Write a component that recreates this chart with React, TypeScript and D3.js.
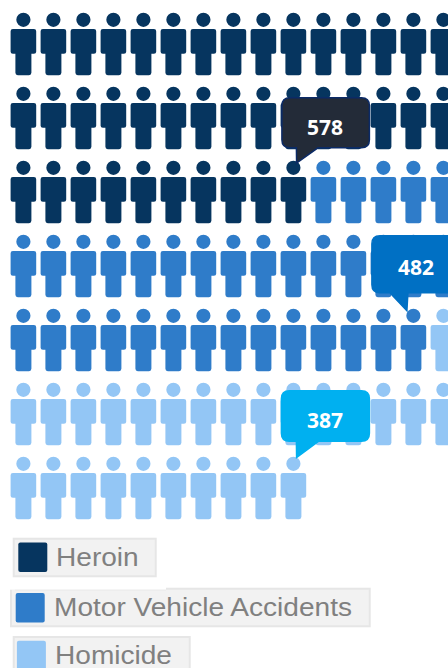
import React from 'react';
import * as d3 from 'd3';

const categories = ['Heroin', 'Motor Vehicle Accidents', 'Homicide'];
const deaths = [578, 482, 387];
// people drawn for each category, out of 100
const iconCounts = [40, 34, 26];
const colors = ['#06355f', '#2f7cc9', '#93c6f5'];

const calloutFill = ['#232b38', '#0070c4', '#00b0f0'];
const calloutStroke = ['#0b2a66', '#0070c4', '#00b0f0'];
// box relative to the head of the last person in the category
const calloutBox = [
  { dx: -11.5, dy: -70, w: 87.5, h: 50, tipDx: 3.2, tipDy: -4.7, baseA: 14.5, baseB: 36, labelDx: 31.5, labelDy: -33 },
  { dx: -41.5, dy: -80, w: 90, h: 57, tipDx: -6.5, tipDy: -5, baseA: 18, baseB: 36, labelDx: 2.5, labelDy: -41 },
  { dx: -12, dy: -73, w: 88, h: 50.5, tipDx: 3.2, tipDy: -6.3, baseA: 15, baseB: 37, labelDx: 31.5, labelDy: -36.3 },
];

const legendBoxes = [
  { x: 12.7, y: 537.7, w: 144, h: 39.6, sx: 18.3, sy: 542.6, tx: 56, by: 565.7 },
  { x: 10, y: 587.7, w: 360.7, h: 39.6, sx: 15.7, sy: 593, tx: 54, by: 615.7 },
  { x: 12.7, y: 636, w: 178, h: 39.6, sx: 16.9, sy: 640.8, tx: 55, by: 664 },
];

const columns = d3.range(15);
const rows = d3.range(7);

const x = d3.scaleLinear().domain([0, 14]).range([23.4, 443.4]);
const y = d3.scaleLinear().domain([0, 6]).range([19.8, 463.8]);

// person icon, origin at the centre of the head
function personPath() {
  const p = d3.path();
  p.arc(0, 0, 7.1, 0, Math.PI * 2);
  p.closePath();
  p.moveTo(-10.5, 9.2);
  p.lineTo(10.5, 9.2);
  p.quadraticCurveTo(12.8, 9.2, 12.8, 11.5);
  p.lineTo(12.8, 32);
  p.quadraticCurveTo(12.8, 34, 10.5, 34);
  p.lineTo(8, 34);
  p.lineTo(8, 53);
  p.quadraticCurveTo(8, 55.4, 5.6, 55.4);
  p.lineTo(-5.6, 55.4);
  p.quadraticCurveTo(-8, 55.4, -8, 53);
  p.lineTo(-8, 34);
  p.lineTo(-10.5, 34);
  p.quadraticCurveTo(-12.8, 34, -12.8, 32);
  p.lineTo(-12.8, 11.5);
  p.quadraticCurveTo(-12.8, 9.2, -10.5, 9.2);
  p.closePath();
  return p.toString();
}

function calloutPath(b: typeof calloutBox[number]) {
  const r = 8;
  const p = d3.path();
  const l = b.dx, t = b.dy, R = b.dx + b.w, B = b.dy + b.h;
  p.moveTo(l + r, t);
  p.lineTo(R - r, t);
  p.quadraticCurveTo(R, t, R, t + r);
  p.lineTo(R, B - r);
  p.quadraticCurveTo(R, B, R - r, B);
  p.lineTo(l + b.baseB, B);
  p.lineTo(b.tipDx, b.tipDy);
  p.lineTo(l + b.baseA, B);
  p.lineTo(l + r, B);
  p.quadraticCurveTo(l, B, l, B - r);
  p.lineTo(l, t + r);
  p.quadraticCurveTo(l, t, l + r, t);
  p.closePath();
  return p.toString();
}

export default function App() {
  const icon = personPath();

  // fill the grid row by row, one category after the other
  const cells = categories.flatMap((c, i) => d3.range(iconCounts[i]).map(() => i));
  const lastIndex = d3.cumsum(iconCounts).map((d) => d - 1);
  const pos = (n: number) => ({
    cx: x(columns[n % columns.length]),
    cy: y(rows[Math.floor(n / columns.length)]),
  });

  return (
    <svg
      width={448}
      height={668}
      style={{ position: 'absolute', left: 0, top: 0, display: 'block' }}
      fontFamily="'Liberation Sans', Arial, sans-serif"
    >
      <g>
        {cells.map((cat, n) => {
          const { cx, cy } = pos(n);
          return <path key={n} d={icon} transform={`translate(${cx},${cy})`} fill={colors[cat]} />;
        })}
      </g>

      <g>
        {categories.map((c, i) => {
          const { cx, cy } = pos(lastIndex[i]);
          const b = calloutBox[i];
          return (
            <g key={c} transform={`translate(${cx},${cy})`}>
              <path d={calloutPath(b)} fill={calloutFill[i]} stroke={calloutStroke[i]} strokeWidth={1.5} />
              <text
                x={b.labelDx}
                y={b.labelDy}
                textAnchor="middle"
                fill="#fff"
                fontFamily="'Open Sans', sans-serif"
                fontWeight={700}
                fontSize={21}
              >
                {deaths[i]}
              </text>
            </g>
          );
        })}
      </g>

      <g>
        {categories.map((c, i) => {
          const l = legendBoxes[i];
          return (
            <g key={c}>
              <rect x={l.x + 1} y={l.y + 1} width={l.w - 2} height={l.h - 2} fill="#f2f2f2" stroke="#e6e6e6" strokeWidth={2} />
              <rect x={l.sx} y={l.sy} width={29} height={29.5} rx={2} fill={colors[i]} />
              <text transform={`translate(${l.tx},${l.by}) scale(1.08,1)`} fontSize={26} fill="#808080">
                {c}
              </text>
            </g>
          );
        })}
        {/* the second legend box has a step in its top edge */}
        <rect x={9} y={587} width={157} height={2.7} fill="#fff" />
        <rect x={15} y={589.7} width={151} height={1} fill="#ececec" />
      </g>
    </svg>
  );
}
